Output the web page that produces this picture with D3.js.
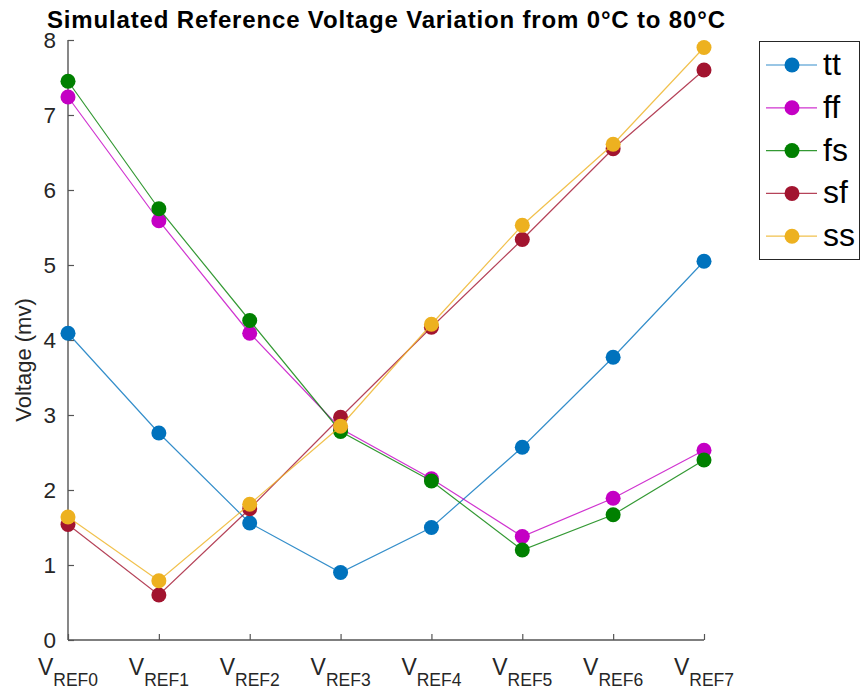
<!DOCTYPE html>
<html>
<head>
<meta charset="utf-8">
<script src="https://cdn.jsdelivr.net/npm/d3@7"></script>
<style>
  html, body { margin: 0; padding: 0; background: #fff; }
  svg { display: block; font-family: "Liberation Sans", Arial, Helvetica, sans-serif; }
</style>
</head>
<body>
<svg id="chart" width="861" height="690"></svg>
<script>
// Reference voltage channels (x axis) and per-corner values in mV
const categories = ["REF0", "REF1", "REF2", "REF3", "REF4", "REF5", "REF6", "REF7"];
const seriesNames = ["tt", "ff", "fs", "sf", "ss"];
const tt = [4.09, 2.76, 1.56, 0.90, 1.50, 2.57, 3.77, 5.05];
const ff = [7.24, 5.59, 4.09, 2.82, 2.15, 1.38, 1.89, 2.53];
const fs = [7.45, 5.75, 4.26, 2.78, 2.12, 1.20, 1.67, 2.40];
const sf = [1.54, 0.60, 1.75, 2.97, 4.17, 5.34, 6.55, 7.60];
const ss = [1.64, 0.79, 1.81, 2.85, 4.21, 5.53, 6.61, 7.90];
const yTicks = [0, 1, 2, 3, 4, 5, 6, 7, 8];
const colors = ["#0072BD", "#C400C4", "#008000", "#A2142F", "#EDB120"];
const titleText = "Simulated Reference Voltage Variation from 0°C to 80°C";
const yLabelText = "Voltage (mv)";

const seriesValues = [tt, ff, fs, sf, ss];
const series = seriesNames.map((name, i) => ({ name, values: seriesValues[i], color: colors[i] }));

const svg = d3.select("#chart");
const plot = { left: 68, right: 704, top: 40, bottom: 640 };
const axisColor = "#555";
const textColor = "#262626";

const x = d3.scalePoint().domain(categories).range([plot.left, plot.right]);
const y = d3.scaleLinear().domain([0, 8]).range([plot.bottom, plot.top]);

// Title
svg.append("text")
  .attr("x", (plot.left + plot.right) / 2)
  .attr("y", 28)
  .attr("text-anchor", "middle")
  .attr("font-size", 24)
  .attr("font-weight", "bold")
  .attr("fill", "#000")
  .attr("textLength", 678)
  .attr("lengthAdjust", "spacing")
  .text(titleText);

// Y axis (ticks pointing inward)
const yAxis = d3.axisRight(y).tickValues(yTicks).tickSize(6).tickFormat("");
const yG = svg.append("g").attr("transform", `translate(${plot.left},0)`).call(yAxis);
yG.select(".domain").attr("d", `M0,${plot.top}V${plot.bottom}`).attr("stroke", axisColor).attr("stroke-width", 1.4);
yG.selectAll(".tick line").attr("stroke", axisColor).attr("stroke-width", 1.2);

svg.append("g").selectAll("text")
  .data(yTicks)
  .join("text")
  .attr("x", plot.left - 12)
  .attr("y", d => y(d))
  .attr("dy", "0.36em")
  .attr("text-anchor", "end")
  .attr("font-size", 22.5)
  .attr("fill", textColor)
  .text(d => d);

// X axis (ticks pointing inward)
const xAxis = d3.axisTop(x).tickSize(6).tickFormat("");
const xG = svg.append("g").attr("transform", `translate(0,${plot.bottom})`).call(xAxis);
xG.select(".domain").attr("d", `M${plot.left},0H${plot.right}`).attr("stroke", axisColor).attr("stroke-width", 1.4);
xG.selectAll(".tick line").attr("stroke", axisColor).attr("stroke-width", 1.2);

const xl = svg.append("g").selectAll("text")
  .data(categories)
  .join("text")
  .attr("x", d => x(d))
  .attr("y", 675)
  .attr("text-anchor", "middle")
  .attr("fill", textColor);
xl.append("tspan").attr("font-size", 23).text("V");
xl.append("tspan").attr("font-size", 17.5).attr("dy", 11).text(d => d);

// Y label
svg.append("text")
  .attr("transform", "translate(31,360) rotate(-90)")
  .attr("text-anchor", "middle")
  .attr("font-size", 22)
  .attr("fill", textColor)
  .text(yLabelText);

// Lines and markers
const line = d3.line().x((d, i) => x(categories[i])).y(d => y(d));
const sG = svg.append("g").selectAll("g").data(series).join("g");
sG.append("path")
  .attr("d", d => line(d.values))
  .attr("fill", "none")
  .attr("stroke", d => d.color)
  .attr("stroke-opacity", 0.8)
  .attr("stroke-width", 1.2);
sG.selectAll("circle")
  .data(d => d.values.map((v, i) => ({ v, i, color: d.color })))
  .join("circle")
  .attr("cx", d => x(categories[d.i]))
  .attr("cy", d => y(d.v))
  .attr("r", 7.5)
  .attr("fill", d => d.color);

// Legend
const legend = svg.append("g");
legend.append("rect")
  .attr("x", 759.5).attr("y", 41.5)
  .attr("width", 100).attr("height", 218)
  .attr("fill", "#fff")
  .attr("stroke", textColor)
  .attr("stroke-width", 1);
const entry = legend.selectAll("g.entry")
  .data(series)
  .join("g")
  .attr("class", "entry")
  .attr("transform", (d, i) => `translate(0,${65 + i * 42.8})`);
entry.append("line")
  .attr("x1", 766).attr("x2", 817)
  .attr("stroke", d => d.color)
  .attr("stroke-opacity", 0.8)
  .attr("stroke-width", 1.2);
entry.append("circle")
  .attr("cx", 792).attr("r", 7.5)
  .attr("fill", d => d.color);
entry.append("text")
  .attr("x", 823).attr("y", 10)
  .attr("font-size", 32)
  .attr("fill", "#000")
  .text(d => d.name);
</script>
</body>
</html>
